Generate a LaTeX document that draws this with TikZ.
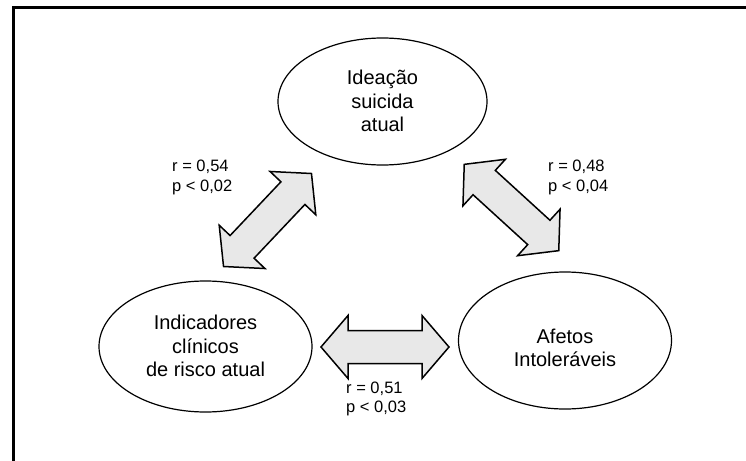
\documentclass[tikz,border=0pt]{standalone}
\usepackage{fontspec}
\setmainfont{Liberation Sans}
\usetikzlibrary{shapes.geometric}
\begin{document}
\begin{tikzpicture}[x=1pt,y=-1pt,
  ell/.style={draw=black, line width=1.2pt, ellipse, inner sep=0pt},
  etext/.style={align=center, inner sep=0pt, font=\fontsize{20}{23.5}\selectfont},
  stat/.style={align=left, anchor=west, inner sep=0pt, font=\fontsize{16.5}{19.5}\selectfont},
  arrowstyle/.style={draw=black, fill=black!9, line width=1.5pt, line join=miter},
  dblarrow/.pic={\path[arrowstyle] (-64,0) -- (-37,31.5) -- (-37,16.5) -- (37,16.5) -- (37,31.5) -- (64,0) -- (37,-31.5) -- (37,-16.5) -- (-37,-16.5) -- (-37,-31.5) -- cycle;}
]
\useasboundingbox (0,0) rectangle (746,460);
\begin{scope}
\clip (0,0) rectangle (746,460);
\draw[line width=2.2pt] (13.5,480) |- (780,7.5);
\end{scope}
% ellipses
\node[ell, minimum width=209, minimum height=127] (id) at (382.5,101.5) {};
\node[etext] (idt) at (382.5,101) {Ideação\\suicida\\atual};
\node[ell, minimum width=213, minimum height=131] (ic) at (205.5,346.5) {};
\node[etext] (ict) at (205.5,346) {Indicadores\\clínicos\\de risco atual};
\node[ell, minimum width=213, minimum height=137] (af) at (565,340.5) {};
\node[etext] (aft) at (565,348) {Afetos\\Intoleráveis};
% block arrows
\coordinate (la) at (267.5,220);
\coordinate (ra) at (511.5,207.5);
\coordinate (ba) at (385,347);
\pic[rotate=46.6] at (la) {dblarrow};
\pic[rotate=-42.4] at (ra) {dblarrow};
\pic at (ba) {dblarrow};
% statistics
\node[stat] (ls) at (172,177.5) {r = 0,54\\p < 0,02};
\node[stat] (rs) at (548,177.5) {r = 0,48\\p < 0,04};
\node[stat] (bs) at (346,399) {r = 0,51\\p < 0,03};
\end{tikzpicture}
\end{document}
